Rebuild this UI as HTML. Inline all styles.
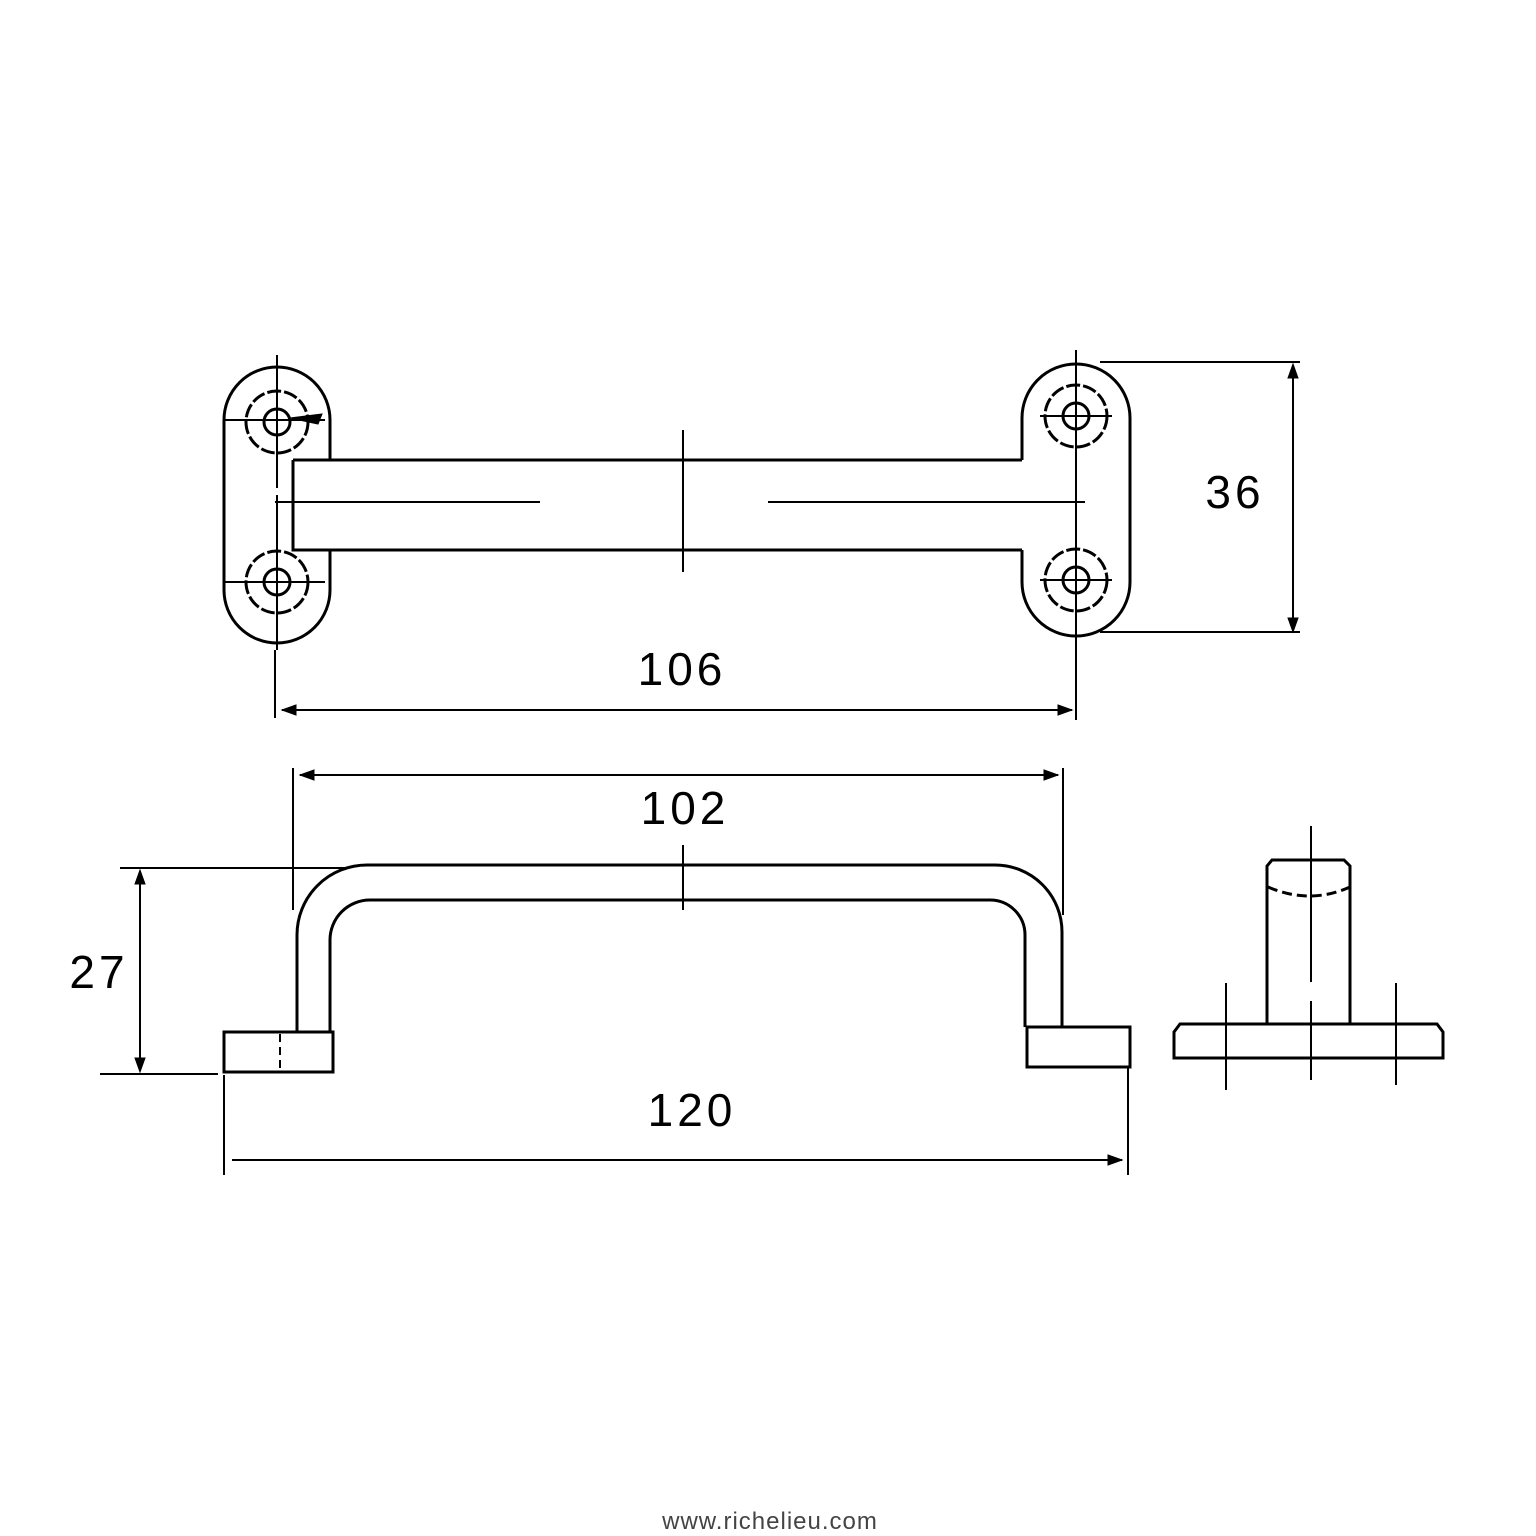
<!DOCTYPE html>
<html><head><style>body{margin:0;background:#fff}svg{display:block}</style></head><body>
<svg width="1536" height="1536" viewBox="0 0 1536 1536" xmlns="http://www.w3.org/2000/svg" fill="none" stroke="#000" stroke-width="3">
<path d="M224 590 L224 420 A53 53 0 0 1 330 420 L330 460 M330 550 L330 590 A53 53 0 0 1 224 590"/>
<path d="M1022 460 L1022 418 A54 54 0 0 1 1130 418 L1130 582 A54 54 0 0 1 1022 582 L1022 550"/>
<path d="M330 460 L1022 460 M293 460 L293 550 L1022 550 M293 460 L330 460"/>
<g stroke-dasharray="14 3">
<circle cx="277" cy="422" r="31"/><circle cx="277" cy="582" r="31"/>
<circle cx="1076" cy="416" r="31"/><circle cx="1076" cy="580" r="31"/>
</g>
<circle cx="277" cy="422" r="13"/><circle cx="277" cy="582" r="13"/>
<circle cx="1076" cy="416" r="13"/><circle cx="1076" cy="580" r="13"/>
<g stroke-width="2">
<path d="M277 355 V488 M277 495 V650 M224 420 H325 M225 582 H325"/>
<path d="M1076 350 V720 M1040 416 H1112 M1040 580 H1112"/>
<path d="M275 502 H540 M768 502 H1085 M683 430 V572"/>
<path d="M275 650 V718 M282 710 H1072"/>
<path d="M1100 362 H1300 M1100 632 H1300 M1293 368 V628"/>
<path d="M293 768 V910 M1063 768 V915 M300 775 H1058"/>
<path d="M683 845 V910"/>
<path d="M120 868 H345 M100 1074 H218 M140 872 V1070"/>
<path d="M224 1075 V1175 M1128 1067 V1175 M232 1160 H1122"/>
</g>
<path d="M290 418 L322 414 L318 424 Z" fill="#000" stroke-width="1"/>
<path d="M1072 710 L1058 705 L1058 715Z M282 710 L296 705 L296 715Z M300 775 L314 770 L314 780Z M1058 775 L1044 770 L1044 780Z M1122 1160 L1108 1155 L1108 1165Z M1293 364 L1288 378 L1298 378Z M1293 632 L1288 618 L1298 618Z M140 870 L135 884 L145 884Z M140 1072 L135 1058 L145 1058Z" fill="#000" stroke-width="1"/>
<path d="M297 1032 V935 A70 70 0 0 1 367 865 H995 A67 67 0 0 1 1062 932 V1027"/>
<path d="M330 1032 V940 A40 40 0 0 1 370 900 H990 A35 35 0 0 1 1025 935 V1027"/>
<rect x="224" y="1032" width="109" height="40"/>
<rect x="1027" y="1027" width="103" height="40"/>
<path d="M280 1034 V1070" stroke-dasharray="8 5" stroke-width="2"/>
<path d="M1267 1024 V866 L1272 860 H1344 L1350 866 V1024"/>
<path d="M1268 887 Q1310 905 1350 887" stroke-dasharray="10 5"/>
<path d="M1174 1058 V1032 L1180 1024 H1437 L1443 1032 V1058 Z"/>
<g stroke-width="2">
<path d="M1311 826 V982 M1311 1001 V1080 M1226 983 V1090 M1396 983 V1085"/>
</g>
<g font-family="Liberation Sans, sans-serif" font-size="46" fill="#000" stroke="none" text-anchor="middle" letter-spacing="4">
<text x="682" y="685">106</text>
<text x="1235" y="508">36</text>
<text x="685" y="824">102</text>
<text x="99" y="988">27</text>
<text x="692" y="1126">120</text>
</g>
<text x="770" y="1529" font-family="Liberation Sans, sans-serif" font-size="24" fill="#444" stroke="none" text-anchor="middle" letter-spacing="1">www.richelieu.com</text>
</svg>
</body></html>
